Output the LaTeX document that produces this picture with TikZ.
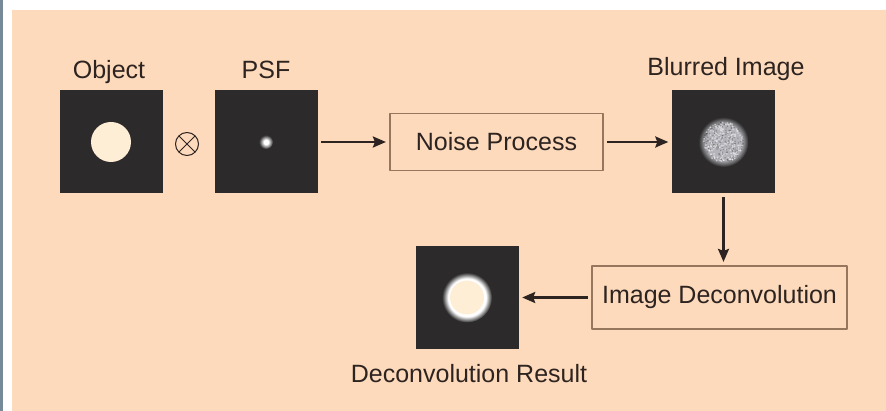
\documentclass[tikz,border=0pt]{standalone}
\usepackage{fontspec}
\setmainfont{Liberation Sans}
\usetikzlibrary{arrows.meta,positioning}
\definecolor{peach}{RGB}{253,218,187}
\definecolor{cream}{RGB}{255,238,214}
\definecolor{darkimg}{RGB}{44,42,42}
\definecolor{boxline}{RGB}{150,118,92}
\definecolor{txt}{RGB}{45,35,32}
\definecolor{strip}{RGB}{118,138,152}
\definecolor{speck}{RGB}{180,180,186}
\pgfdeclareradialshading{halo}{\pgfpoint{0bp}{0bp}}{color(0bp)=(white); color(19bp)=(white); color(25bp)=(darkimg); color(50bp)=(darkimg)}
\pgfdeclareradialshading{blob}{\pgfpoint{0bp}{0bp}}{color(0bp)=(speck); color(18bp)=(speck); color(25bp)=(darkimg); color(50bp)=(darkimg)}
\pgfdeclareradialshading{spot}{\pgfpoint{0bp}{0bp}}{color(0bp)=(white); color(8bp)=(white); color(25bp)=(darkimg); color(50bp)=(darkimg)}
\tikzset{
  img/.style={fill=darkimg, minimum size=103pt, inner sep=0pt},
  procbox/.style={draw=boxline, line width=1.2pt, text=txt, inner sep=0pt},
  lbl/.style={text=txt, anchor=base, inner sep=0pt},
  flow/.style={->, line width=2.4pt, draw=txt, shorten <=3.5pt, shorten >=3.5pt},
}
\begin{document}
\begin{tikzpicture}[x=1pt, y=-1pt, line join=round, >={Stealth[length=13pt,width=11pt,inset=2pt]}, font=\fontsize{25}{30}\selectfont]
    \useasboundingbox (0,0) rectangle (886,411);
    \fill[white] (0,0) rectangle (886,411);
    \fill[strip] (0,0) rectangle (2.5,411);
    \fill[peach] (12,10) rectangle (886,411); % panel
    % images
    \node[img] (obj) at (111,142) {};
    \node[img] (psf) at (266,142) {};
    \node[img] (blur) at (723.5,142) {};
    \node[img] (res) at (467,297.5) {};
    \fill[cream] (obj.center) circle (20);
    \shade[shading=spot] (psf.center) circle (7);
    \shade[shading=blob] (blur.center) circle (25);
    \pgfmathsetseed{7}
    \foreach \i in {1,...,180}{
        \pgfmathsetmacro\ang{360*rnd} \pgfmathsetmacro\rad{20*sqrt(rnd)}
        \fill[white, opacity=0.5, shift={(blur.center)}] (\ang:\rad) circle (0.9);
        \fill[darkimg, opacity=0.3, shift={(blur.center)}] (\ang+137:\rad) circle (0.8);
    }
    \shade[shading=halo] (res.center) circle (25);
    \fill[cream] (res.center) circle (17);
    % labels
    \node[lbl] (objlbl) at (109,79) {Object};
    \node[lbl] (psflbl) at (266,79) {PSF};
    \node[lbl] (blurlbl) at (726,76) {Blurred Image};
    \node[lbl] (reslbl) at (469,383) {Deconvolution Result};
    % convolution sign
    \node[draw=txt, circle, minimum size=23pt, inner sep=0pt, line width=1pt,
        path picture={\draw[txt, line width=1pt] (path picture bounding box.north west) -- (path picture bounding box.south east)
        (path picture bounding box.north east) -- (path picture bounding box.south west);}] (conv) at (187,144) {};
    % process boxes
    \node[procbox, minimum width=213pt, minimum height=57pt] (noise) at (496.5,142) {Noise Process};
    \node[procbox, minimum width=255pt, minimum height=63pt] (deconv) at (719.5,297.5) {Image Deconvolution};
    % arrows
    \draw[flow] (psf) -- (noise);
    \draw[flow] (noise) -- (blur);
    \draw[flow] (blur.south) -- (blur.south |- deconv.north);
    \draw[flow] (deconv) -- (res);
\end{tikzpicture}
\end{document}
